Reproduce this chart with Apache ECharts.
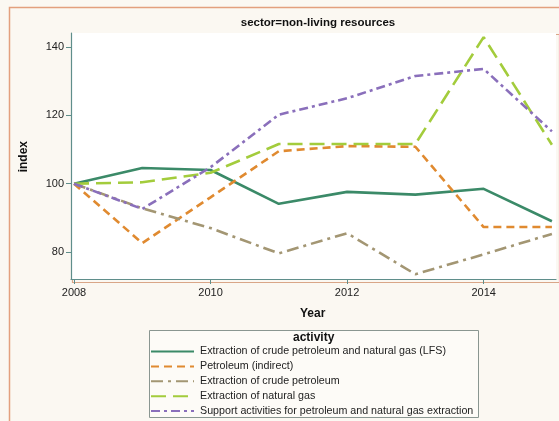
<!DOCTYPE html>
<html lang="en">
<head>
<meta charset="utf-8">
<title>sector=non-living resources</title>
<style>
  html, body { margin: 0; padding: 0; background: #fbf8f2; }
  #main { width: 559px; height: 421px; }
</style>
</head>
<body>
<div id="main"></div>
<script src="https://cdn.jsdelivr.net/npm/echarts@6/dist/echarts.min.js"></script>
<script>
// data
var years = [2008, 2009, 2010, 2011, 2012, 2013, 2014, 2015];
var lfs = [100, 104.6, 104, 94.1, 97.6, 96.8, 98.5, 89];
var petroIndirect = [100, 82.6, 96, 109.5, 111, 110.8, 87.3, 87.3];
var crudePetro = [100, 92.8, 87, 79.6, 85.5, 73.5, 79.3, 85.3];
var naturalGas = [100, 100.4, 103.2, 111.6, 111.6, 111.6, 142.9, 111.4];
var support = [100, 92.6, 104.8, 120.2, 125, 131.5, 133.6, 115.3];
var xTicks = [2008, 2010, 2012, 2014];
var yTicks = [80, 100, 120, 140];

function pairs(vals) {
    var res = [];
    for (var i = 0; i < years.length; i++) {
        res.push([years[i], vals[i]]);
    }
    return res;
}

function lineSeries(name, vals, color, dash) {
    return {
        name: name,
        type: 'line',
        data: pairs(vals),
        symbol: 'none',
        silent: true,
        lineStyle: { color: color, width: 2.6, type: dash },
        itemStyle: { color: color }
    };
}

var myChart = echarts.init(document.getElementById('main'));
var txt = '#222';
var axisCol = '#5f8e8b';
var font = 'Liberation Sans, Arial, sans-serif';

myChart.setOption({
    backgroundColor: '#fbf8f2',
    animation: false,
    textStyle: { fontFamily: font },
    title: {
        text: 'sector=non-living resources',
        left: 313,
        textAlign: 'center',
        top: 12,
        textStyle: { fontSize: 11.5, fontWeight: 'bold', color: '#111' }
    },
    graphic: [
        {
            type: 'rect', left: 7, top: 5, z: -10, silent: true,
            shape: { width: 560, height: 430 },
            style: { fill: 'none', stroke: '#e3a07e', lineWidth: 1.5 }
        },
        {
            type: 'rect', left: 70, top: 32, z: -5, silent: true,
            shape: { width: 487, height: 248 },
            style: { fill: 'none', stroke: '#d9a688', lineWidth: 1.2 }
        },
        {
            type: 'text', left: 18, top: 141, rotation: Math.PI / 2, silent: true,
            style: { text: 'index', fontSize: 12, fontWeight: 'bold', fill: '#111', fontFamily: font }
        },
        {
            type: 'text', left: 300, top: 308, silent: true,
            style: { text: 'Year', fontSize: 12, fontWeight: 'bold', fill: '#111', fontFamily: font }
        },
        {
            type: 'rect', left: 149, top: 330, silent: true,
            shape: { width: 329, height: 87 },
            style: { fill: '#fdfbf7', stroke: '#8a9691', lineWidth: 1 }
        },
        {
            type: 'text', left: 293, top: 332, silent: true,
            style: { text: 'activity', fontSize: 12, fontWeight: 'bold', fill: '#111', fontFamily: font }
        }
    ],
    legend: {
        orient: 'vertical',
        left: 150,
        top: 346,
        padding: 0,
        itemWidth: 43,
        itemHeight: 10,
        itemGap: 3.9,
        selectedMode: false,
        itemStyle: { opacity: 0 },
        textStyle: { fontSize: 10.7, color: txt, padding: [0, 0, 0, 1] },
        z: 10,
        data: [
            'Extraction of crude petroleum and natural gas (LFS)',
            'Petroleum (indirect)',
            'Extraction of crude petroleum',
            'Extraction of natural gas',
            'Support activities for petroleum and natural gas extraction'
        ]
    },
    grid: {
        left: 71,
        top: 33,
        right: 3,
        bottom: 142,
        show: true,
        backgroundColor: '#ffffff',
        borderWidth: 0
    },
    xAxis: {
        type: 'value',
        min: 2007.956,
        max: 2015.06,
        splitLine: { show: false },
        axisLine: { show: true, lineStyle: { color: axisCol, width: 1.2 } },
        axisTick: { show: true, length: 5, customValues: xTicks,
                    lineStyle: { color: axisCol } },
        axisLabel: { customValues: xTicks, color: txt, fontSize: 11, margin: 8,
                     formatter: function(v) { return String(v); } }
    },
    yAxis: {
        type: 'value',
        min: 72.1,
        max: 144.1,
        splitLine: { show: false },
        axisLine: { show: true, lineStyle: { color: axisCol, width: 1.2 } },
        axisTick: { show: true, length: 5, customValues: yTicks,
                    lineStyle: { color: axisCol } },
        axisLabel: { customValues: yTicks, color: txt, fontSize: 11, margin: 7 }
    },
    series: [
        lineSeries('Extraction of crude petroleum and natural gas (LFS)', lfs, '#3b8a68', 'solid'),
        lineSeries('Petroleum (indirect)', petroIndirect, '#e08a30', [8, 5]),
        lineSeries('Extraction of crude petroleum', crudePetro, '#a39673', [12, 5, 3, 5]),
        lineSeries('Extraction of natural gas', naturalGas, '#a3cc3c', [15, 7]),
        lineSeries('Support activities for petroleum and natural gas extraction', support, '#8a6fbb', [9, 4, 3, 4])
    ]
});
</script>
</body>
</html>
